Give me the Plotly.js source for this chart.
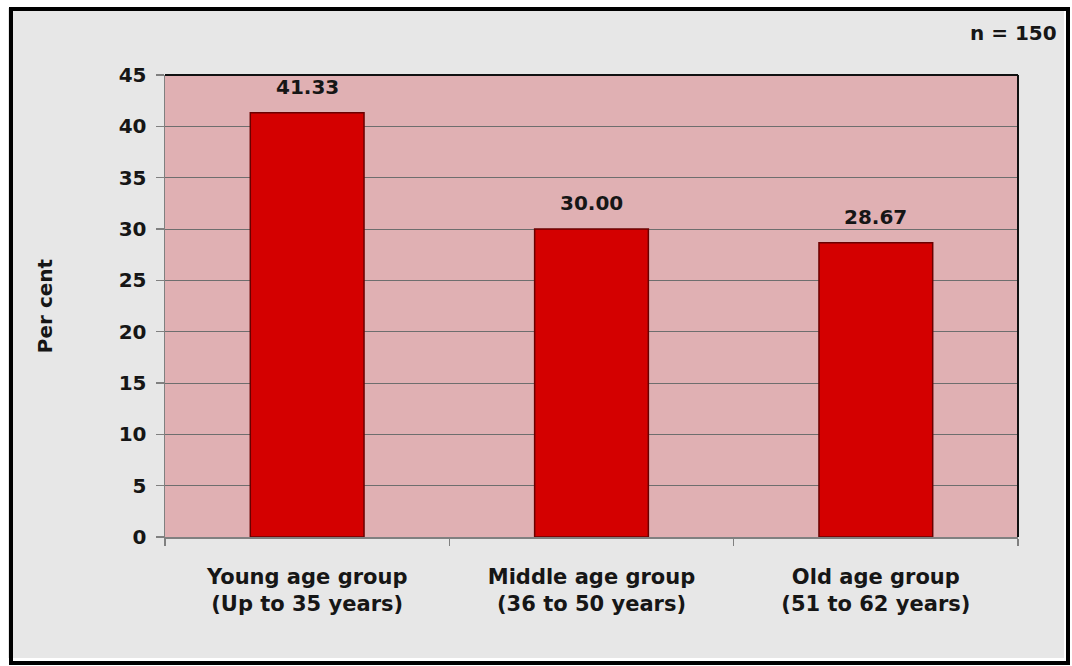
<!DOCTYPE html>
<html>
<head>
<meta charset="utf-8">
<script src="https://cdn.plot.ly/plotly-3.0.1.min.js"></script>
<style>
html, body { margin: 0; padding: 0; background: #ffffff; }
#chart { width: 1072px; height: 666px; }
</style>
</head>
<body>
<div id="chart"></div>
<script>
// ---- data ----
const categories = [
  "Young age group<br>(Up to 35 years)",
  "Middle age group<br>(36 to 50 years)",
  "Old age group<br>(51 to 62 years)"
];
const percentValues = [41.33, 30.00, 28.67];
const yTickValues = [0, 5, 10, 15, 20, 25, 30, 35, 40, 45];
const sampleNote = "n = 150";
const yAxisLabel = "Per cent";

// ---- layout helpers (pixel -> paper) ----
const W = 1072, H = 666;
const M = { l: 165, r: 54, t: 75, b: 129 };
const PW = W - M.l - M.r, PH = H - M.t - M.b;
const px = v => (v - M.l) / PW;
const py = v => (H - M.b - v) / PH;

const FONT = "DejaVu Sans, Verdana, sans-serif";
const TXT = "#161616";

const trace = {
  type: "bar",
  x: categories,
  y: percentValues,
  width: 0.4,
  marker: { color: "#d40000", line: { color: "#6a0000", width: 1.5 } },
  hoverinfo: "none"
};

const labelAnnotations = categories.map((c, i) => ({
  x: c, y: percentValues[i], xref: "x", yref: "y",
  text: "<b>" + percentValues[i].toFixed(2) + "</b>",
  showarrow: false, yanchor: "middle", yshift: 26,
  font: { family: FONT, size: 20, color: TXT }
}));

const layout = {
  width: W, height: H,
  margin: M,
  paper_bgcolor: "#e7e7e7",
  plot_bgcolor: "#e0b0b3",
  showlegend: false,
  bargap: 0.6,
  xaxis: {
    type: "category",
    tickson: "boundaries",
    ticks: "outside", ticklen: 7, tickcolor: "#808080", tickwidth: 1.5,
    showline: true, linecolor: "#808080", linewidth: 1.5,
    showgrid: false,
    tickfont: { family: FONT, size: 21, color: TXT, weight: "bold" },
    ticklabelstandoff: 20,
    fixedrange: true
  },
  yaxis: {
    range: [0, 45],
    tickvals: yTickValues,
    ticks: "outside", ticklen: 8, tickcolor: "#808080", tickwidth: 1.5,
    showline: true, linecolor: "#808080", linewidth: 1.5,
    showgrid: true, gridcolor: "#6e6e6e", gridwidth: 1,
    zeroline: false,
    tickfont: { family: FONT, size: 20, color: TXT, weight: "bold" },
    ticklabelstandoff: 5,
    title: { text: yAxisLabel, font: { family: FONT, size: 20, color: TXT, weight: "bold" }, standoff: 60 },
    fixedrange: true
  },
  annotations: labelAnnotations.concat([{
    xref: "paper", yref: "paper", x: px(1059), y: py(33),
    xanchor: "right", yanchor: "middle", showarrow: false,
    text: "<b>" + sampleNote + "</b>",
    font: { family: FONT, size: 20, color: TXT }
  }]),
  shapes: [
    // white outer margin
    { type: "rect", xref: "paper", yref: "paper", x0: px(0), x1: px(W), y0: py(H), y1: py(0),
      line: { color: "#ffffff", width: 16 }, fillcolor: "rgba(0,0,0,0)", layer: "above" },
    // black frame
    { type: "rect", xref: "paper", yref: "paper", x0: px(11), x1: px(1068), y0: py(663), y1: py(9),
      line: { color: "#000000", width: 4 }, fillcolor: "rgba(0,0,0,0)", layer: "above" },
    // plot area top and right border
    { type: "line", xref: "paper", yref: "paper", x0: 0, x1: 1, y0: 1, y1: 1,
      line: { color: "#111111", width: 2 }, layer: "above" },
    { type: "line", xref: "paper", yref: "paper", x0: 1, x1: 1, y0: 0, y1: 1,
      line: { color: "#111111", width: 2 }, layer: "above" }
  ]
};

Plotly.newPlot("chart", [trace], layout, { displayModeBar: false, staticPlot: true });
</script>
</body>
</html>
